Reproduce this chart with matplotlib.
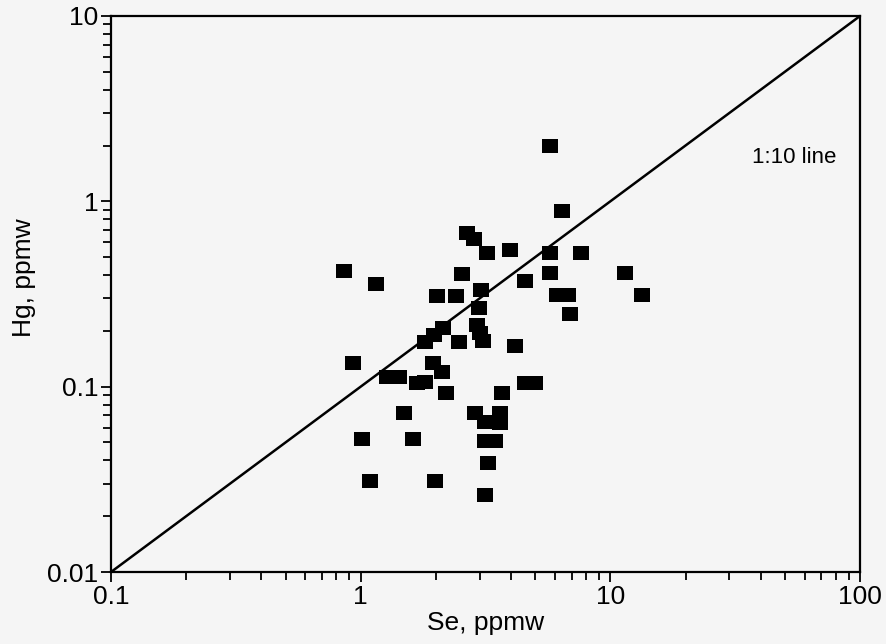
import numpy as np
import matplotlib
matplotlib.use("Agg")
import matplotlib.pyplot as plt
from matplotlib.ticker import FixedLocator, FixedFormatter, LogLocator, NullFormatter

# Se vs Hg (ppmw)
se = [0.857, 1.152, 0.931, 1.012, 1.090, 1.274, 1.423, 1.490, 1.620, 1.984,
      1.681, 1.810, 1.948, 2.117, 2.196, 1.810, 1.966, 2.136, 2.476, 2.923,
      3.005, 3.089, 2.977, 3.033, 2.545, 2.021, 2.408, 2.665, 2.842, 3.205,
      3.962, 4.149, 3.680, 4.550, 4.989, 2.869, 3.613, 3.146, 3.613, 3.146,
      3.450, 3.235, 3.146, 5.730, 6.401, 5.730, 7.628, 5.730, 11.44, 4.550,
      6.112, 6.765, 6.891, 13.38]
hg = [0.4205, 0.3580, 0.1341, 0.05215, 0.03095, 0.1126, 0.1126, 0.0720, 0.05215, 0.03095,
      0.1045, 0.1058, 0.1341, 0.1199, 0.0923, 0.1741, 0.1900, 0.2071, 0.1741, 0.2150,
      0.1948, 0.1762, 0.2655, 0.3322, 0.4052, 0.3083, 0.3083, 0.6745, 0.6259, 0.5260,
      0.5460, 0.1656, 0.0923, 0.1045, 0.1045, 0.0720, 0.0720, 0.0644, 0.0636, 0.0509,
      0.0509, 0.0387, 0.0260, 1.988, 0.8865, 0.5260, 0.5260, 0.4102, 0.4102, 0.3715,
      0.3120, 0.3120, 0.2464, 0.3120]

line_x = [0.1, 100]
line_y = [0.01, 10]

xticks = [0.1, 1, 10, 100]
xlabels = ["0.1", "1", "10", "100"]
yticks = [0.01, 0.1, 1, 10]
ylabels = ["0.01", "0.1", "1", "10"]

plt.rcParams['font.family'] = ['Liberation Sans', 'DejaVu Sans']

fig = plt.figure(figsize=(8.86, 6.44), dpi=100, facecolor='#f5f5f5')
ax = fig.add_axes([0.1253, 0.1118, 0.8454, 0.8634])
ax.set_facecolor('#f5f5f5')

ax.set_xscale('log')
ax.set_yscale('log')
ax.set_xlim(0.1, 100)
ax.set_ylim(0.01, 10)

# slightly wide square marker like the scan
rect = [(-1, -0.85), (1, -0.85), (1, 0.85), (-1, 0.85), (-1, -0.85)]
ax.plot(line_x, line_y, color='black', lw=1.8, zorder=2)
ax.scatter(se, hg, marker=rect, s=125, color='black', linewidths=0, zorder=3)

ax.text(37, 1.73, "1:10 line", fontsize=16, ha='left', va='center')

ax.xaxis.set_major_locator(FixedLocator(xticks))
ax.xaxis.set_major_formatter(FixedFormatter(xlabels))
ax.yaxis.set_major_locator(FixedLocator(yticks))
ax.yaxis.set_major_formatter(FixedFormatter(ylabels))
ax.xaxis.set_minor_locator(LogLocator(base=10, subs=np.arange(2, 10)))
ax.yaxis.set_minor_locator(LogLocator(base=10, subs=np.arange(2, 10)))
ax.xaxis.set_minor_formatter(NullFormatter())
ax.yaxis.set_minor_formatter(NullFormatter())

ax.tick_params(which='both', direction='out', top=False, right=False,
               width=1.3, labelsize=19, pad=2)
ax.tick_params(which='major', length=7)
ax.tick_params(which='minor', length=6)

for s in ax.spines.values():
    s.set_linewidth(1.6)

ax.set_xlabel("Se, ppmw", fontsize=19, labelpad=2)
ax.set_ylabel("Hg, ppmw", fontsize=19)
ax.yaxis.set_label_coords(-0.10, 0.53)

fig.savefig("out.png", dpi=100, facecolor=fig.get_facecolor())
